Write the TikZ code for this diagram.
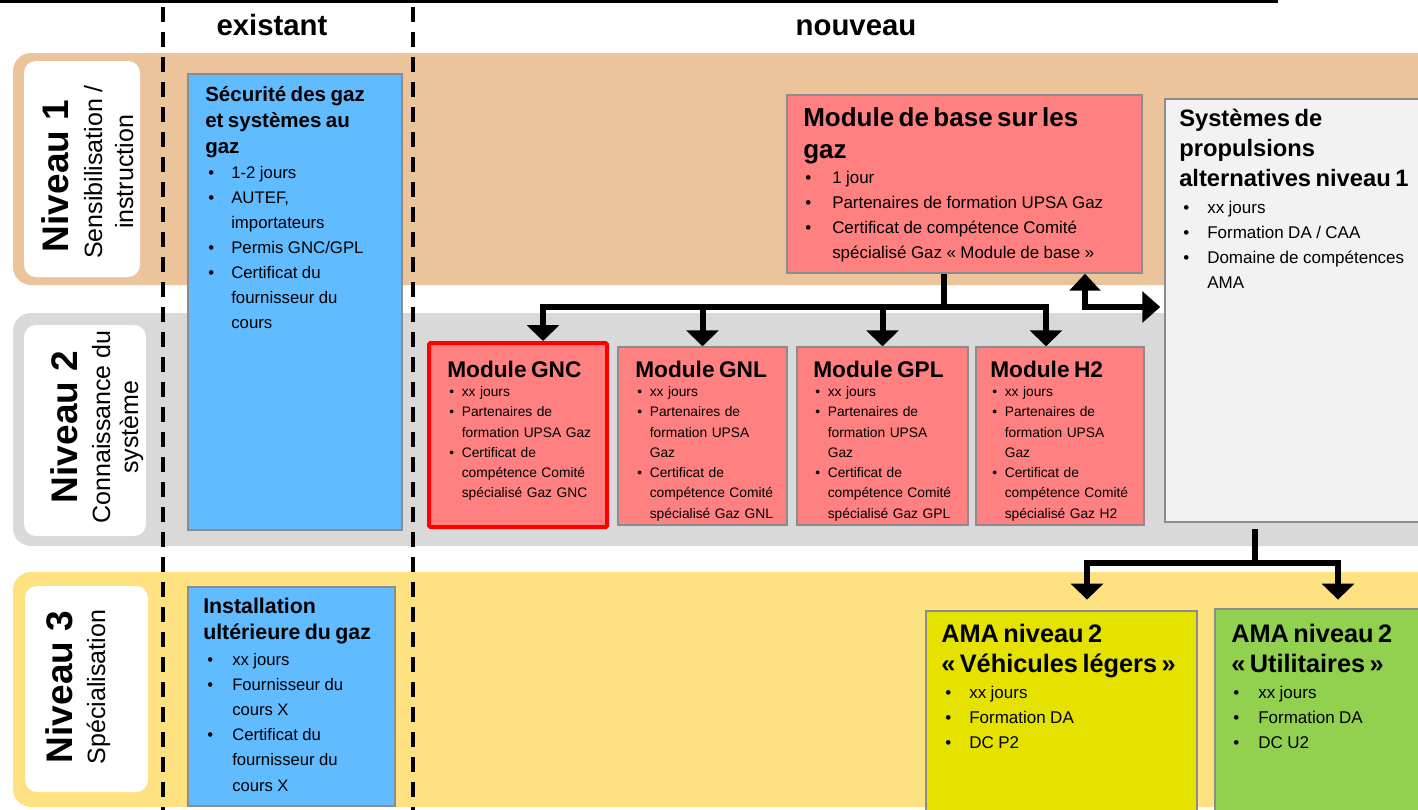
\documentclass[tikz,border=0pt]{standalone}
\usepackage{fontspec}
\setmainfont{Liberation Sans}
\usetikzlibrary{arrows.meta,fit,calc}
\definecolor{tanband}{HTML}{ECC49C}
\definecolor{greyband}{HTML}{D9D9D9}
\definecolor{yelband}{HTML}{FEE282}
\definecolor{bluebox}{HTML}{60BBFF}
\definecolor{pinkbox}{HTML}{FF8080}
\definecolor{systbox}{HTML}{F2F2F2}
\definecolor{amayel}{HTML}{E6E200}
\definecolor{amagrn}{HTML}{92D050}
\definecolor{boxborder}{HTML}{8C8C8C}
\newlength\bind
\newlength\bsh
\newcommand{\bset}[2]{\setlength\bsh{#1}\setlength\bind{#2}}
\newcommand{\bi}[1]{\par\hangindent=\bind\hangafter=1\noindent\hbox to\bind{\hskip\bsh\textbullet\hfil}\ignorespaces#1\par}
\newcommand{\titlef}[2]{\fontsize{#1}{#2}\selectfont\bfseries}
\newcommand{\bodyf}[2]{\par\fontsize{#1}{#2}\selectfont\mdseries}
\tikzset{
  band/.style={rounded corners=13.5pt},
  lbl/.style={fill=white, rounded corners=9pt, inner sep=0pt},
  box/.style={draw=boxborder, line width=1.1pt, inner sep=0pt},
  txt/.style={anchor=base west, inner sep=0pt, align=left, text width=#1},
  niv/.style={rotate=90, anchor=base, inner sep=0pt, font=\fontsize{27.75}{30}\selectfont\bfseries},
  subl/.style={rotate=90, anchor=base, inner sep=0pt, font=\fontsize{18.75}{22}\selectfont},
  hdr/.style={anchor=base, inner sep=0pt, font=\fontsize{22}{26}\selectfont\bfseries},
  conn/.style={line width=4.5pt},
  arr/.style={conn, -{Triangle[width=24pt,length=12pt]}},
  sepline/.style={line width=2.6pt, dash pattern=on 11.25pt off 7.5pt},
}
\begin{document}
\begin{tikzpicture}[x=0.75pt,y=-0.75pt]
\useasboundingbox (0,0) rectangle (1418,810);
% bands
\fill[tanband, band] (13,53) rectangle (1450,285);
\fill[greyband, band] (13,313) rectangle (1450,546);
\fill[yelband, band] (13,572) rectangle (1450,807);
% label boxes
\node[lbl, fit={(24,61) (140,277)}] (lbl1) {};
\node[lbl, fit={(24,325) (146,536)}] (lbl2) {};
\node[lbl, fit={(25,586) (148,792)}] (lbl3) {};
% top rule and separators
\draw[line width=2.25pt] (0,1.5) -- (1278,1.5);
\draw[sepline] (163,7) -- (163,812);
\draw[sepline] (413,7) -- (413,812);
% headers
\node[hdr] (exist) at (272,36) {existant};
\node[hdr] (nouv) at (856,36) {nouveau};
% level labels
\node[niv] (n1) at (68,176) {Niveau 1};
\node[subl] (s1a) at (102,172) {Sensibilisation /};
\node[subl] (s1b) at (133,172) {instruction};
\node[niv] (n2) at (77,427) {Niveau 2};
\node[subl] (s2a) at (110,427) {Connaissance du};
\node[subl] (s2b) at (138,427) {système};
\node[niv] (n3) at (72,687) {Niveau 3};
\node[subl] (s3) at (105,687) {Spécialisation};
% boxes
\node[box, fill=bluebox, fit={(188,74) (402,530)}] (secu) {};
\node[box, fill=bluebox, fit={(188,587) (395,806)}] (inst) {};
\node[box, fill=pinkbox, fit={(787,95) (1142,273)}] (base) {};
\node[box, fill=systbox, fit={(1165,99) (1450,522)}] (syst) {};
\node[box, fill=pinkbox, draw=red, line width=3pt, rounded corners=1pt, fit={(429,343) (607,527)}] (gnc) {};
\node[box, fill=pinkbox, fit={(618,347) (787,525)}] (gnl) {};
\node[box, fill=pinkbox, fit={(797,347) (968,525)}] (gpl) {};
\node[box, fill=pinkbox, fit={(976,347) (1144,525)}] (h2) {};
\node[box, fill=amayel, fit={(926,611) (1197,830)}] (amay) {};
\node[box, fill=amagrn, fit={(1215,609) (1450,830)}] (amag) {};
% connectors
\coordinate (hub) at (944,307);
\coordinate (barL) at (543,307);
\coordinate (barR) at (1046,307);
\draw[conn] (base.south -| hub) -- (hub);
\draw[conn, line cap=rect] (barL) -- (barR);
\draw[arr] (barL) -- (barL |- gnc.north);
\draw[arr] (gnl.north |- barL) -- (gnl.north);
\draw[arr] (gpl.north |- barL) -- (gpl.north);
\draw[arr] (barR) -- (barR |- h2.north);
\coordinate (dbl) at (1085,307);
\draw[conn, {Triangle[width=23pt,length=12.75pt]}-{Triangle[width=23pt,length=13.5pt]}, shorten >=3pt] (dbl |- base.south) |- (dbl -| syst.west);
\coordinate (hub2) at (1255,563);
\coordinate (bar2L) at (1087,563);
\coordinate (bar2R) at (1338,563);
\draw[conn, shorten <=5pt] (syst.south -| hub2) -- (hub2);
\draw[conn, line cap=rect] (bar2L) -- (bar2R);
\draw[arr, shorten >=8pt] (bar2L) -- (bar2L |- amay.north);
\draw[arr, shorten >=6.5pt] (bar2R) -- (bar2R |- amag.north);
% texts
\node[txt=190pt] (secuT) at (205,101) {\bset{2.25pt}{19.5pt}\titlef{15.4}{19.5}Sécurité des gaz\\et systèmes au\\gaz\bodyf{12.6}{18.75}\bi{1-2 jours}\bi{AUTEF,\newline importateurs}\bi{Permis GNC/GPL}\bi{Certificat du\newline fournisseur du\newline cours}};
\node[txt=190pt] (instT) at (203,613) {\bset{3pt}{21.75pt}\titlef{16}{19.5}Installation\\ultérieure du gaz\bodyf{12.5}{18.9}\vspace{0.6pt}\bi{xx jours}\bi{Fournisseur du\newline cours X}\bi{Certificat du\newline fournisseur du\newline cours X}};
\node[txt=300pt] (baseT) at (803,126) {\bset{1.5pt}{21.75pt}\titlef{19.5}{24}Module de base sur les\\gaz\bodyf{12.7}{18.75}\bi{1 jour}\bi{Partenaires de formation UPSA Gaz}\bi{Certificat de compétence Comité\newline spécialisé Gaz «~Module de base~»}};
\node[txt=220pt] (systT) at (1179,126) {\bset{3pt}{21pt}\titlef{17.8}{22.5}Systèmes de\\propulsions\\alternatives niveau 1\bodyf{12.75}{18.75}\vspace{1.5pt}\bi{xx jours}\bi{Formation DA / CAA}\bi{Domaine de compétences\newline AMA}};
\node[txt=150pt] (gncT) at (447,377) {\bset{1.5pt}{10.9pt}\titlef{17}{20}Module GNC\bodyf{10.35}{15.2}\vspace{-0.6pt}\bi{xx jours}\bi{Partenaires de\newline formation UPSA Gaz}\bi{Certificat de\newline compétence Comité\newline spécialisé Gaz GNC}};
\node[txt=150pt] (gnlT) at (635,377) {\bset{1.5pt}{10.9pt}\titlef{17}{20}Module GNL\bodyf{10.35}{15.2}\vspace{-0.6pt}\bi{xx jours}\bi{Partenaires de\newline formation UPSA\newline Gaz}\bi{Certificat de\newline compétence Comité\newline spécialisé Gaz GNL}};
\node[txt=150pt] (gplT) at (813,377) {\bset{1.5pt}{10.9pt}\titlef{17}{20}Module GPL\bodyf{10.35}{15.2}\vspace{-0.6pt}\bi{xx jours}\bi{Partenaires de\newline formation UPSA\newline Gaz}\bi{Certificat de\newline compétence Comité\newline spécialisé Gaz GPL}};
\node[txt=150pt] (h2T) at (990,377) {\bset{1.5pt}{10.9pt}\titlef{17}{20}Module H2\bodyf{10.35}{15.2}\vspace{-0.6pt}\bi{xx jours}\bi{Partenaires de\newline formation UPSA\newline Gaz}\bi{Certificat de\newline compétence Comité\newline spécialisé Gaz H2}};
\node[txt=220pt] (amayT) at (941,642) {\bset{3pt}{21pt}\titlef{19}{22.5}AMA niveau 2\\«~Véhicules légers~»\bodyf{12.75}{19.1}\vspace{0.4pt}\bi{xx jours}\bi{Formation DA}\bi{DC P2}};
\node[txt=200pt] (amagT) at (1231,642) {\bset{1.5pt}{20.25pt}\titlef{19}{22.5}AMA niveau 2\\«~Utilitaires~»\bodyf{12.75}{19.1}\vspace{0.4pt}\bi{xx jours}\bi{Formation DA}\bi{DC U2}};
\end{tikzpicture}
\end{document}
